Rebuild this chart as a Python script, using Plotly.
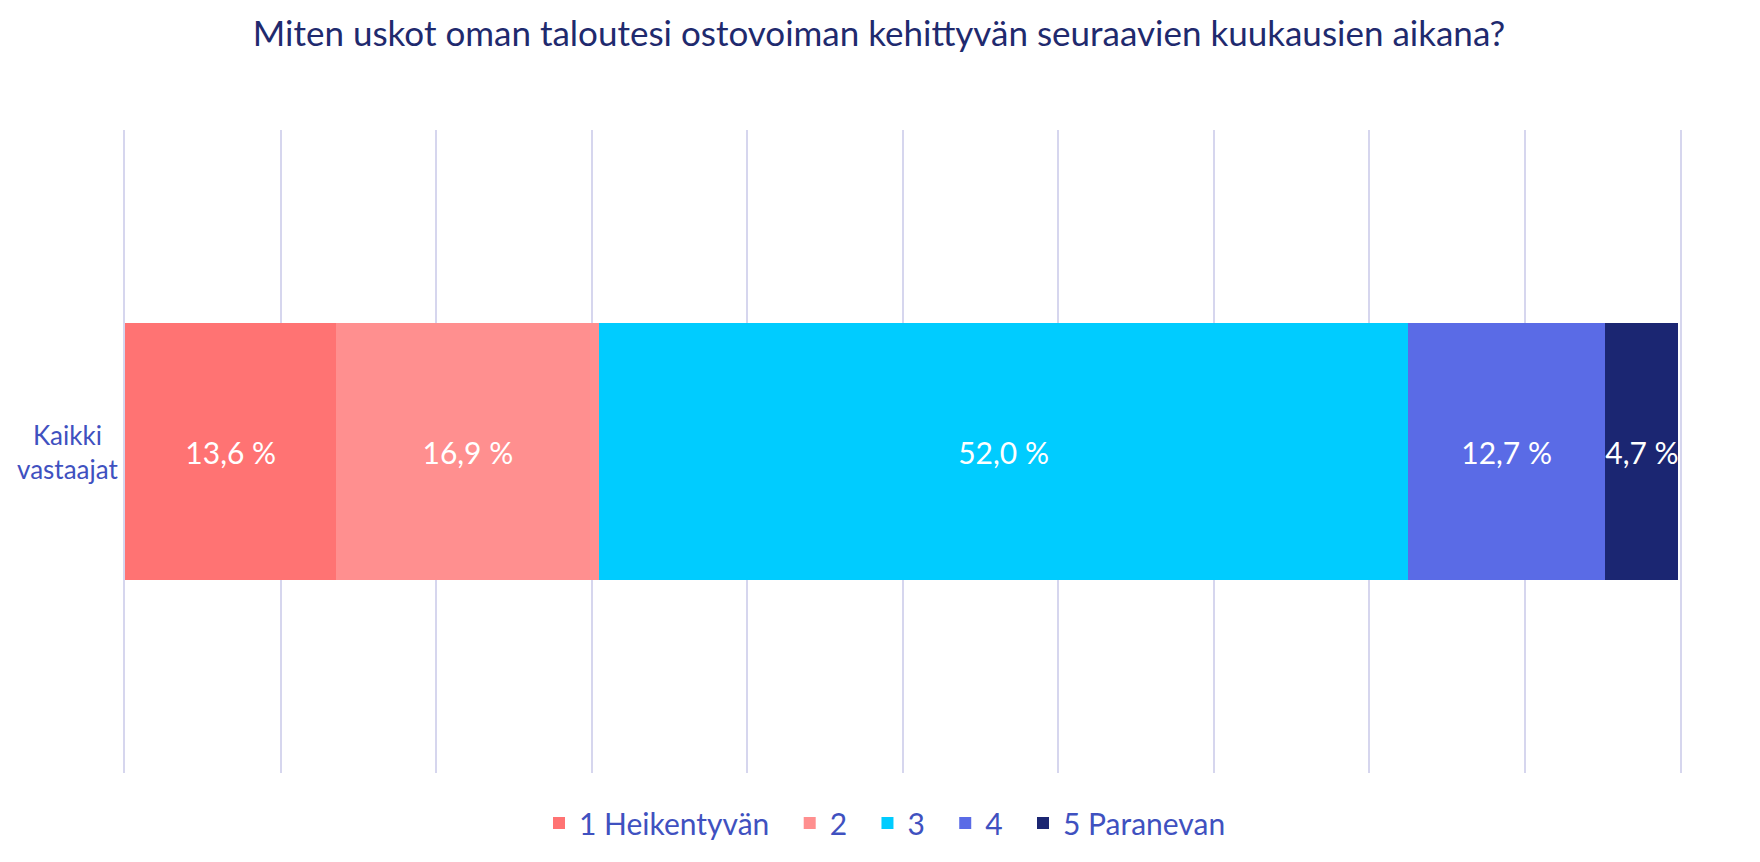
import plotly.graph_objects as go

# survey data
categories = ["Kaikki<br>vastaajat"]
series_names = ["1 Heikentyvän", "2", "3", "4", "5 Paranevan"]
series_values = [13.6, 16.9, 52.0, 12.7, 4.7]
colors = ["#FF7373", "#FF8F8F", "#00CCFF", "#5A6BE6", "#1B2672"]

FONT = "Lato"
LABEL_BLUE = "#3F51C0"
GRID = "#D6D6EE"

# browser adds an 8px body margin, compensate for it
OFF = 8
PAD = "\u00a0\u00a0"  # a bit of extra room between legend entries

fig = go.Figure()

for i, (name, val, col) in enumerate(zip(series_names, series_values, colors)):
    label = f"{val:.1f}".replace(".", ",") + " %"
    fig.add_trace(go.Bar(
        y=categories,
        x=[val],
        name=name + (PAD if i < len(series_names) - 1 else ""),
        orientation="h",
        marker=dict(color=col, line=dict(width=0)),
        text=[label],
        textposition="inside",
        insidetextanchor="middle",
        textangle=0,
        constraintext="none",
        textfont=dict(family=FONT, size=30, color="white"),
        hoverinfo="skip",
    ))

# category label, centred text like the original
for cat in categories:
    fig.add_annotation(
        text=cat, xref="paper", x=0, xanchor="right", xshift=-5,
        yref="y", y=cat, yanchor="middle",
        align="center", showarrow=False,
        font=dict(family=FONT, size=26, color=LABEL_BLUE),
    )

fig.update_layout(
    barmode="stack",
    bargap=0.6,
    width=1760,
    height=862,
    paper_bgcolor="white",
    plot_bgcolor="white",
    margin=dict(l=125 - OFF, r=80 + OFF, t=130 - OFF, b=89 + OFF),
    title=dict(
        text="Miten uskot oman taloutesi ostovoiman kehittyvän seuraavien kuukausien aikana?",
        x=(879 - OFF) / 1760, xanchor="center",
        y=1 - (34 - OFF) / 862, yanchor="middle",
        font=dict(family=FONT, size=35, color="#1F2A6E"),
    ),
    xaxis=dict(
        range=[0, 100],
        dtick=10,
        showgrid=True,
        gridcolor=GRID,
        gridwidth=2,
        zeroline=False,
        showticklabels=False,
        fixedrange=True,
    ),
    yaxis=dict(
        showgrid=False,
        zeroline=False,
        showline=True,
        mirror=True,
        linecolor=GRID,
        linewidth=2,
        showticklabels=False,
        ticks="",
        automargin=False,
    ),
    legend=dict(
        orientation="h",
        x=(885 - OFF) / 1760, xanchor="center",
        xref="container",
        y=1 - (823 - OFF) / 862, yanchor="middle",
        yref="container",
        font=dict(family=FONT, size=30, color=LABEL_BLUE),
        traceorder="normal",
        itemwidth=30,
    ),
    showlegend=True,
)

fig.write_html("out.html")
